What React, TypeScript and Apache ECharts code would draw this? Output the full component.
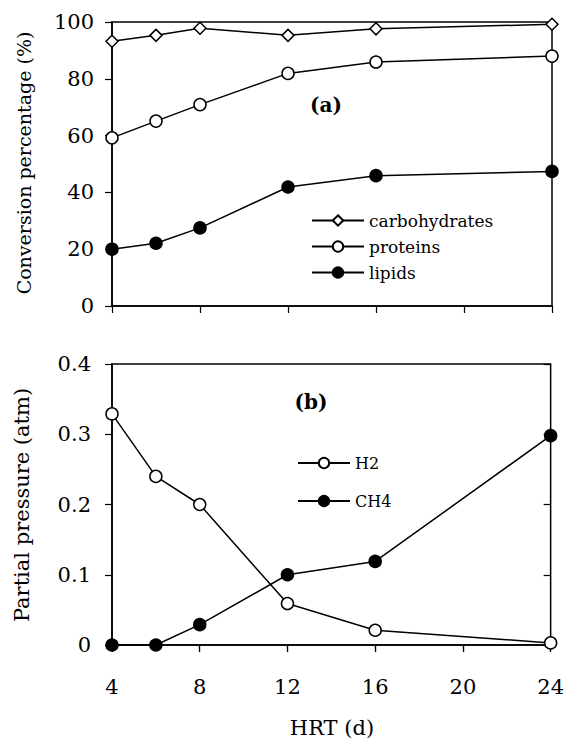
import React, { useEffect, useRef } from "react";
import * as echarts from "echarts";

const hrt = [4, 6, 8, 12, 16, 24];
const carbohydrates = [93.2, 95.3, 97.8, 95.3, 97.6, 99.2];
const proteins = [59.2, 65.1, 70.9, 81.9, 85.9, 88.0];
const lipids = [20.0, 22.1, 27.5, 41.9, 45.9, 47.4];
const h2 = [0.329, 0.24, 0.2, 0.059, 0.021, 0.003];
const ch4 = [0, 0, 0.029, 0.1, 0.119, 0.298];

const FONT = "DejaVu Serif";

const pairs = (ys: number[]) => hrt.map((x, i) => [x, ys[i]]);

export default function App() {
  const ref = useRef<HTMLDivElement>(null);
  useEffect(() => {
    if (!ref.current) return;
    const chart = echarts.init(ref.current, null, { renderer: "svg" });
    const axisLine = { show: true, lineStyle: { color: "#000", width: 1.5 } };
    const tick = (inside: boolean) => ({ show: true, inside, length: 7, lineStyle: { color: "#000", width: 1.2 } });
    const lineSeries = (
      name: string,
      data: number[][],
      symbol: string,
      filled: boolean,
      xi: number,
      yi: number
    ) => ({
      name,
      type: "line",
      data,
      xAxisIndex: xi,
      yAxisIndex: yi,
      symbol,
      symbolSize: 12,
      showAllSymbol: true,
      lineStyle: { color: "#000", width: 1.5 },
      itemStyle: {
        color: filled ? "#000" : "#fff",
        borderColor: "#000",
        borderWidth: 1.5,
      },
      z: 5,
    });
    const txt = (text: string, x: number, y: number, size: number, rot: boolean, bold = false) => ({
      type: "text",
      x,
      y,
      rotation: rot ? Math.PI / 2 : 0,
      style: {
        text,
        fill: "#000",
        fontFamily: FONT,
        fontSize: size,
        fontWeight: bold ? "bold" : "normal",
        textAlign: "center",
        textVerticalAlign: "middle",
      },
    });
    const label = (margin: number) => ({ show: true, margin, color: "#000", fontFamily: FONT, fontSize: 21 });
    const option: any = {
      animation: false,
      backgroundColor: "#fff",
      textStyle: { fontFamily: FONT },
      grid: [
        { left: 112, top: 22, width: 440, height: 284, show: true, borderColor: "#000", borderWidth: 1.5, backgroundColor: "transparent" },
        { left: 112, top: 364, width: 440, height: 281, show: true, borderColor: "#000", borderWidth: 1.5, backgroundColor: "transparent" },
      ],
      xAxis: [
        {
          type: "value", gridIndex: 0, min: 4, max: 24, interval: 4,
          axisLine, axisTick: tick(false),
          axisLabel: { show: false }, splitLine: { show: false },
        },
        {
          type: "value", gridIndex: 1, min: 4, max: 24, interval: 4,
          axisLine, axisTick: tick(false),
          axisLabel: label(31),
          splitLine: { show: false },
        },
        {
          type: "value", gridIndex: 1, min: 4, max: 24, interval: 4,
          axisLine: { show: false }, axisTick: tick(true),
          axisLabel: { show: false }, splitLine: { show: false },
        },
      ],
      yAxis: [
        {
          type: "value", gridIndex: 0, min: 0, max: 100, interval: 20,
          axisLine, axisTick: tick(false),
          axisLabel: label(18),
          splitLine: { show: false },
        },
        {
          type: "value", gridIndex: 1, min: 0, max: 0.4, interval: 0.1,
          axisLine, axisTick: tick(false),
          axisLabel: label(21),
          splitLine: { show: false },
        },
        {
          type: "value", gridIndex: 1, min: 0, max: 0.4, interval: 0.1,
          axisLine: { show: false }, axisTick: tick(true),
          axisLabel: { show: false }, splitLine: { show: false },
        },
      ],
      legend: [
        {
          data: ["carbohydrates", "proteins", "lipids"],
          orient: "vertical", left: 306, top: 207,
          itemWidth: 52, itemHeight: 13, itemGap: 9,
          selectedMode: false,
          textStyle: { color: "#000", fontFamily: FONT, fontSize: 17 },
        },
        {
          data: ["H2", "CH4"],
          orient: "vertical", left: 292, top: 450,
          itemWidth: 52, itemHeight: 13, itemGap: 22,
          selectedMode: false,
          textStyle: { color: "#000", fontFamily: FONT, fontSize: 16 },
        },
      ],
      graphic: [
        txt("Conversion percentage (%)", 24, 163, 19, true),
        txt("Partial pressure (atm)", 22, 505, 21, true),
        txt("HRT (d)", 332, 728, 21, false),
        txt("(a)", 326, 105, 20, false, true),
        txt("(b)", 311, 402, 20, false, true),
      ],
      series: [
        lineSeries("carbohydrates", pairs(carbohydrates), "diamond", false, 0, 0),
        lineSeries("proteins", pairs(proteins), "circle", false, 0, 0),
        lineSeries("lipids", pairs(lipids), "circle", true, 0, 0),
        lineSeries("H2", pairs(h2), "circle", false, 1, 1),
        lineSeries("CH4", pairs(ch4), "circle", true, 1, 1),
      ],
    };
    chart.setOption(option);
    return () => chart.dispose();
  }, []);
  return (
    <div
      ref={ref}
      style={{ position: "fixed", left: 0, top: 0, width: 567, height: 742, background: "#fff" }}
    />
  );
}
